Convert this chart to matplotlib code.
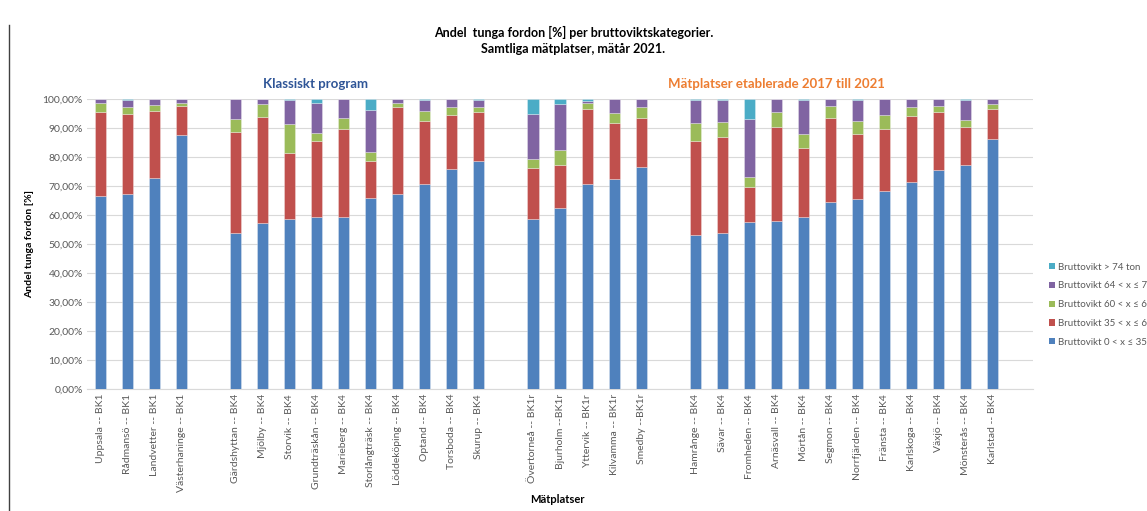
import matplotlib.pyplot as plt
import numpy as np
from matplotlib.lines import Line2D
from matplotlib.patches import Patch
from matplotlib.ticker import FuncFormatter

plt.rcParams['font.family'] = ['Lato', 'DejaVu Sans']

# Mätplatser, grouped: klassiskt program (2 groups) + nya platser 2017-2021 (2 groups)
stations = [
    'Uppsala -- BK1', 'Rådmansö -- BK1', 'Landvetter -- BK1', 'Västerhaninge -- BK1',
    'Gärdshyttan -- BK4', 'Mjölby -- BK4', 'Storvik -- BK4', 'Grundträskån -- BK4',
    'Marieberg -- BK4', 'Storlångträsk -- BK4', 'Löddeköping -- BK4', 'Optand -- BK4',
    'Torsboda -- BK4', 'Skurup -- BK4',
    'Övertorneå -- BK1r', 'Bjurholm --BK1r', 'Yttervik -- BK1r', 'Kilvamma -- BK1r',
    'Smedby --BK1r',
    'Hamrånge -- BK4', 'Sävar -- BK4', 'Fromheden -- BK4', 'Arnäsvall -- BK4',
    'Mörtån -- BK4', 'Segmon -- BK4', 'Norrfjärden -- BK4', 'Fränsta -- BK4',
    'Karlskoga -- BK4', 'Växjö -- BK4', 'Mönsterås -- BK4', 'Karlstad -- BK4',
]
group_sizes = [4, 10, 5, 12]

# andel [%] per bruttoviktsklass
w_0_35 = [66.6, 67.1, 72.9, 87.5,
          53.9, 57.1, 58.6, 59.2, 59.2, 66.0, 67.1, 70.7, 75.9, 78.6,
          58.6, 62.5, 70.7, 72.3, 76.6,
          53.1, 53.9, 57.6, 58.0, 59.3, 64.6, 65.4, 68.2, 71.5, 75.6, 77.4, 86.2]
w_35_60 = [28.8, 27.6, 23.0, 10.2,
           34.7, 36.8, 22.9, 26.4, 30.6, 12.5, 30.1, 21.7, 18.6, 16.9,
           17.5, 14.6, 25.7, 19.3, 16.7,
           32.3, 33.0, 12.1, 32.2, 23.8, 29.0, 22.6, 21.5, 22.6, 19.8, 13.1, 10.5]
w_60_64 = [3.1, 2.5, 2.0, 0.8,
           4.5, 4.4, 9.9, 2.7, 3.5, 3.1, 1.3, 3.5, 2.7, 1.7,
           3.3, 5.4, 2.2, 3.6, 3.9,
           6.4, 5.2, 3.5, 5.2, 4.8, 4.0, 4.5, 4.8, 3.1, 2.3, 2.3, 1.6]
w_64_74 = [1.5, 2.6, 2.1, 1.5,
           6.8, 1.7, 8.3, 10.4, 6.6, 14.6, 1.5, 3.6, 2.7, 2.3,
           15.3, 15.8, 0.7, 4.7, 2.7,
           7.7, 7.6, 19.8, 4.5, 11.6, 2.4, 7.0, 5.4, 2.8, 2.3, 6.7, 1.7]
w_74 = [0.0, 0.2, 0.0, 0.0,
        0.1, 0.0, 0.3, 1.3, 0.1, 3.8, 0.0, 0.5, 0.1, 0.5,
        5.3, 1.7, 0.7, 0.1, 0.1,
        0.5, 0.3, 7.0, 0.1, 0.5, 0.0, 0.5, 0.1, 0.0, 0.0, 0.5, 0.0]

series = [
    ('Bruttovikt 0 < x ≤ 35 ton', w_0_35, '#4F81BD'),
    ('Bruttovikt 35 < x ≤ 60 ton', w_35_60, '#C0504D'),
    ('Bruttovikt 60 < x ≤ 64 ton', w_60_64, '#9BBB59'),
    ('Bruttovikt 64 < x ≤ 74 ton', w_64_74, '#8064A2'),
    ('Bruttovikt > 74 ton', w_74, '#4BACC6'),
]

# x positions: one empty slot after each group
pos = []
slot = 0
for n in group_sizes:
    pos.extend(range(slot, slot + n))
    slot += n + 1
pos = np.array(pos)

fig = plt.figure(figsize=(11.47, 5.11), dpi=100)
ax = fig.add_axes([0.0759, 0.2387, 0.8247, 0.5676])

bottom = np.zeros(len(stations))
for label, vals, color in series:
    vals = np.array(vals)
    ax.bar(pos, vals, width=0.41, bottom=bottom, color=color,
           edgecolor=(1, 1, 1, 0.35), linewidth=0.6, label=label, zorder=3)
    bottom += vals

ax.set_xlim(-0.5, slot - 0.5)
ax.set_ylim(0, 100)
ax.set_yticks(np.arange(0, 101, 10))
ax.yaxis.set_major_formatter(FuncFormatter(lambda v, _: f'{v:.2f}%'.replace('.', ',')))
ax.grid(axis='y', color='#D9D9D9', linewidth=0.8, zorder=0)
for s in ['top', 'right', 'left']:
    ax.spines[s].set_visible(False)
ax.spines['bottom'].set_color('#D9D9D9')
ax.tick_params(axis='both', length=0, labelsize=7.5, labelcolor='#595959')
ax.tick_params(axis='y', pad=3)
ax.set_xticks(pos)
ax.set_xticklabels(stations, rotation=90)

ax.set_ylabel('Andel tunga fordon [%]', fontsize=7.5, fontweight='bold', labelpad=6)
fig.text(0.486, 0.022, 'Mätplatser', ha='center', va='center', fontsize=8, fontweight='bold')

fig.text(0.5, 0.937, 'Andel  tunga fordon [%] per bruttoviktskategorier.',
         ha='center', va='center', fontsize=9, fontweight='bold')
fig.text(0.5, 0.904, 'Samtliga mätplatser, mätår 2021.',
         ha='center', va='center', fontsize=9, fontweight='bold')
fig.text(0.2755, 0.836, 'Klassiskt program', ha='center', va='center',
         fontsize=9.5, fontweight='bold', color='#2F5597')
fig.text(0.677, 0.836, 'Mätplatser etablerade 2017 till 2021', ha='center', va='center',
         fontsize=9.5, fontweight='bold', color='#ED7D31')

# legend sits at the right edge, its long labels run past the border
handles = [Patch(facecolor=c, label=l) for l, _, c in series][::-1]
fig.legend(handles=handles, loc='upper left', bbox_to_anchor=(0.907, 0.503),
           frameon=False, fontsize=7, handlelength=0.6, handleheight=0.6,
           handletextpad=0.35, labelspacing=1.0, labelcolor='#595959')

# frame edge on the left
fig.add_artist(Line2D([9 / 1147, 9 / 1147], [0, 486 / 511], color='#404040', linewidth=1.0))

plt.savefig('out.png', dpi=100)
